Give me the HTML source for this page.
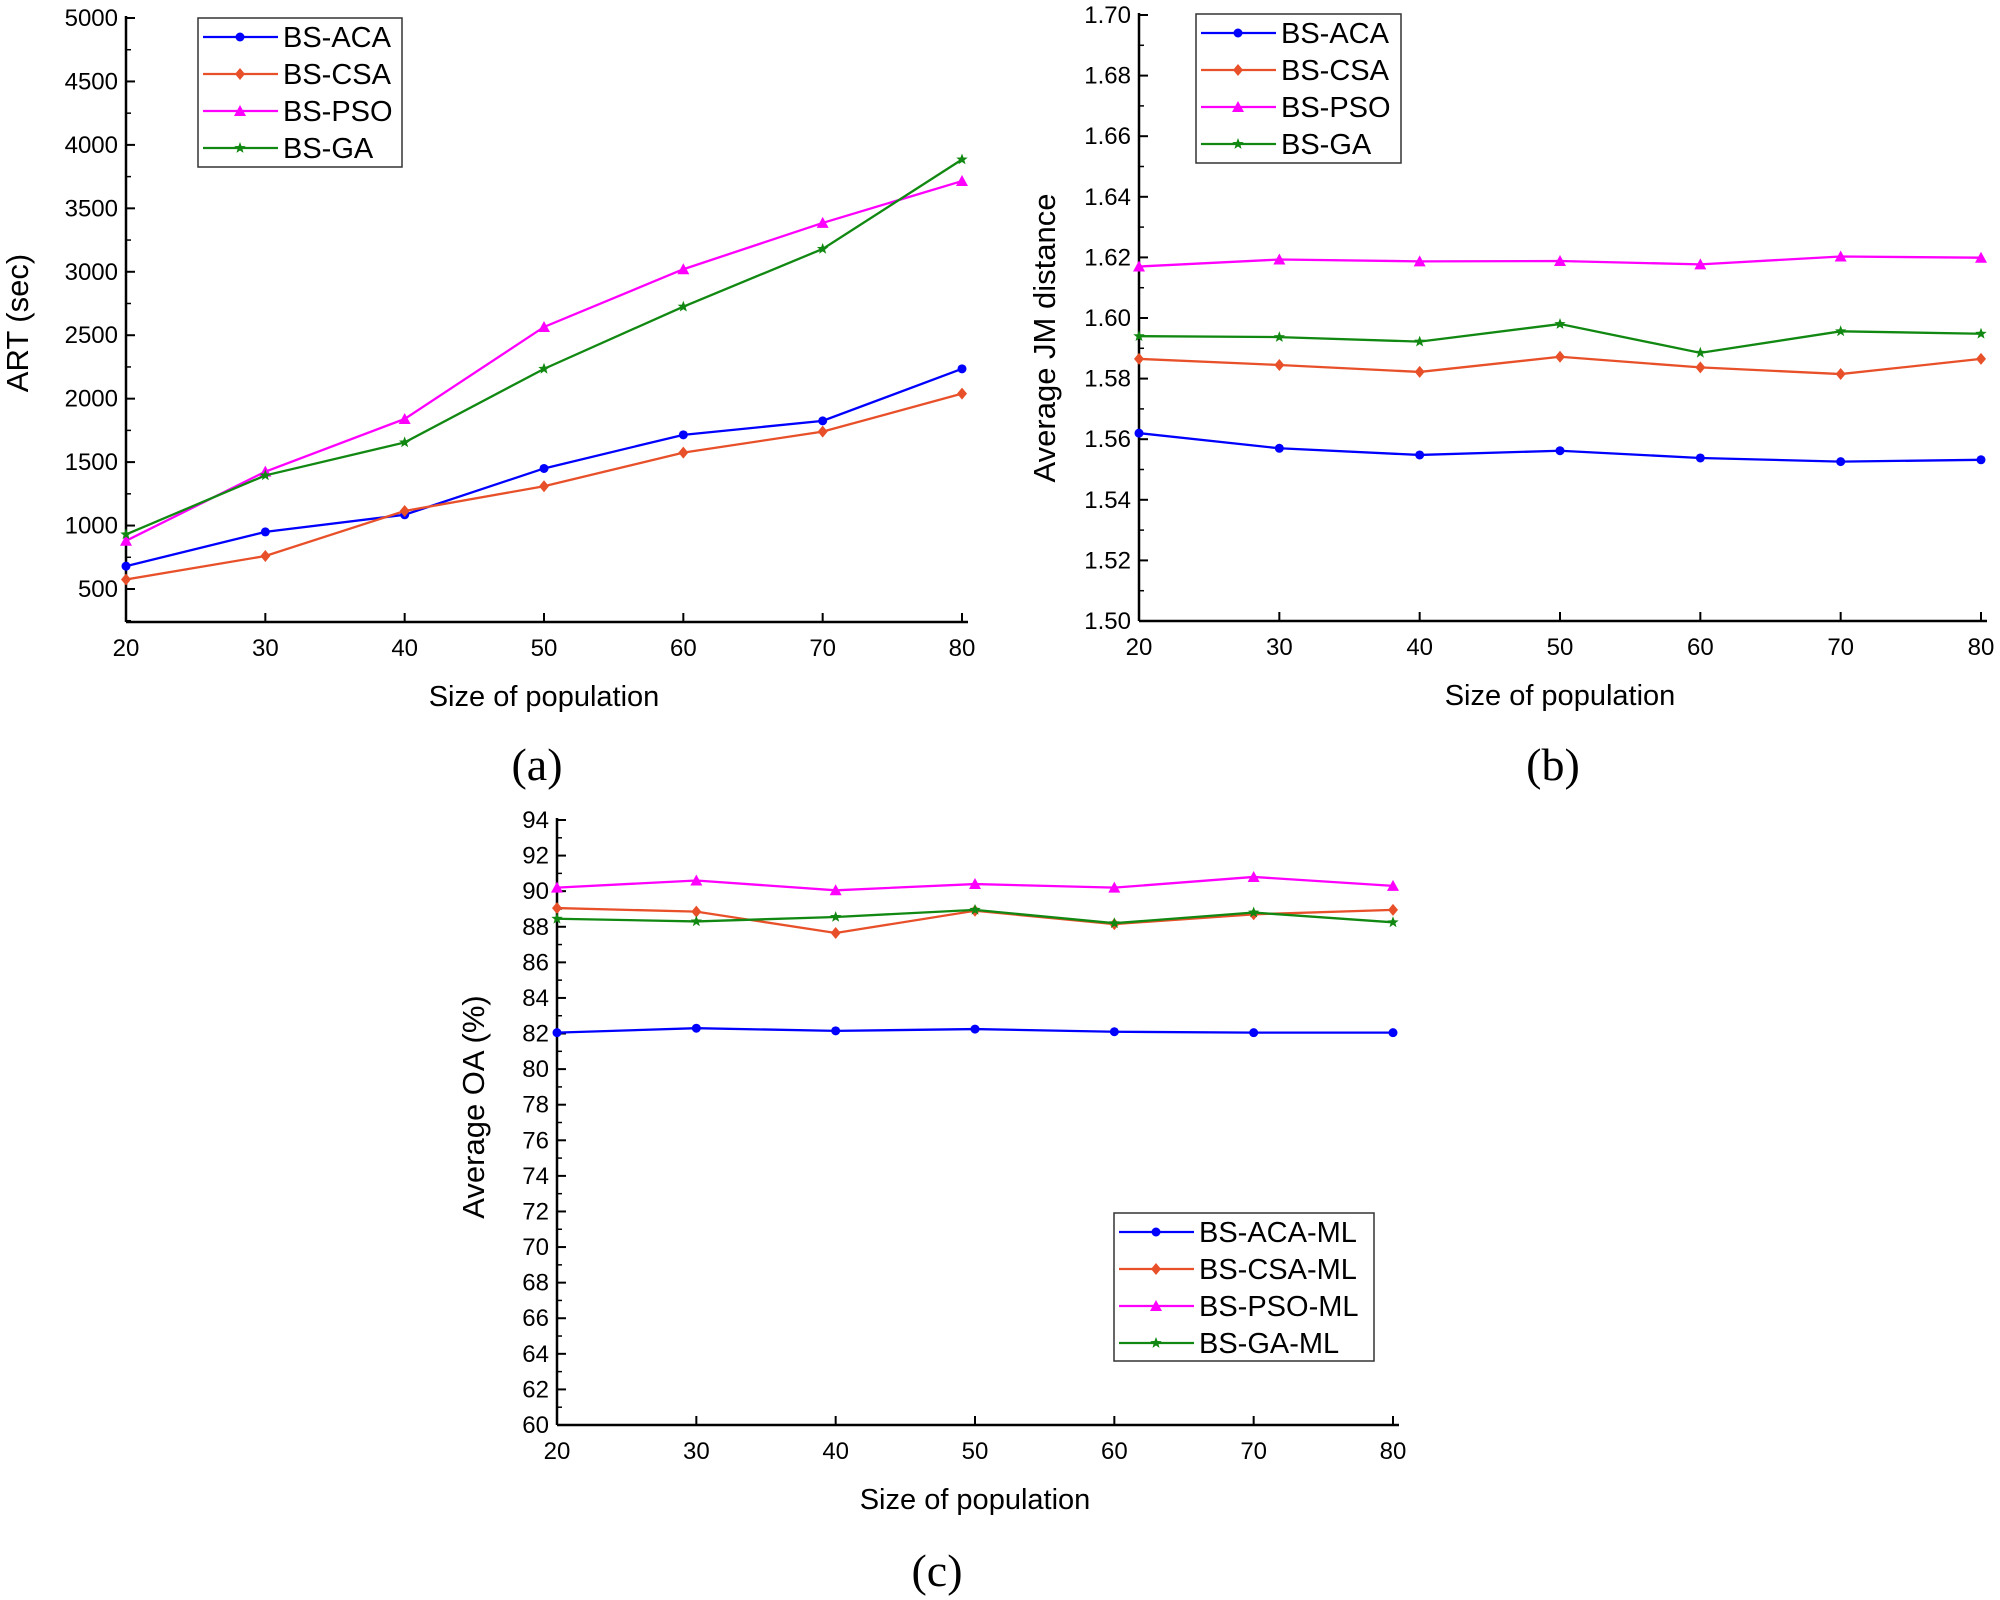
<!DOCTYPE html>
<html><head><meta charset="utf-8"><style>
html,body{margin:0;padding:0;background:#fff;}
svg{display:block;font-family:"Liberation Sans",Arial,sans-serif;}
</style></head><body>
<svg id="s" width="2000" height="1600" xmlns="http://www.w3.org/2000/svg"></svg>
<script>
const S=document.getElementById('s');let h='';
const col={b:'#0000ff',r:'#e8502a',m:'#ff00ff',g:'#118811'};
function marker(t,x,y,c){
 if(t==='b')return `<circle cx="${x}" cy="${y}" r="4.5" fill="${c}"/>`;
 if(t==='r')return `<polygon points="${x},${y-6} ${x+5},${y} ${x},${y+6} ${x-5},${y}" fill="${c}"/>`;
 if(t==='m')return `<polygon points="${x},${y-6} ${x+6},${y+5} ${x-6},${y+5}" fill="${c}"/>`;
 let p=[];for(let i=0;i<10;i++){const r=i%2?2.5:6,a=-Math.PI/2+i*Math.PI/5;p.push((x+r*Math.cos(a)).toFixed(1)+','+(y+r*Math.sin(a)).toFixed(1));}
 return `<polygon points="${p.join(' ')}" fill="${c}"/>`;
}
function plot(o){
 const X=v=>o.x0+(v-20)/60*(o.x1-o.x0);
 const Y=v=>o.yb+(v-o.vmin)/(o.vmax-o.vmin)*(o.yt-o.yb);
 const yb=o.axisBottom;
 h+=`<line x1="${o.x0}" y1="${o.yt-2}" x2="${o.x0}" y2="${yb}" stroke="#000" stroke-width="2.5"/>`;
 h+=`<line x1="${o.x0}" y1="${yb}" x2="${o.x1+6}" y2="${yb}" stroke="#000" stroke-width="2.5"/>`;
 for(let v=o.tmin;v<=o.vmax+1e-9;v+=o.step){
  const y=Y(v);h+=`<line x1="${o.x0}" y1="${y}" x2="${o.x0+9}" y2="${y}" stroke="#000" stroke-width="2"/>`;
  h+=`<text x="${o.x0-8}" y="${y+8}" font-size="24" text-anchor="end">${o.fmt(v)}</text>`;
  const ym=Y(v+o.step/2);if(v+o.step/2<o.vmax&&ym>=o.yt)h+=`<line x1="${o.x0}" y1="${ym}" x2="${o.x0+5}" y2="${ym}" stroke="#000" stroke-width="1.5"/>`;
 }
 if(o.preMinor){const ym=Y(o.tmin-o.step/2);h+=`<line x1="${o.x0}" y1="${ym}" x2="${o.x0+5}" y2="${ym}" stroke="#000" stroke-width="1.5"/>`;}
 for(let v=20;v<=80;v+=10){const x=X(v);h+=`<line x1="${x}" y1="${yb}" x2="${x}" y2="${yb-9}" stroke="#000" stroke-width="2"/>`;
  h+=`<text x="${x}" y="${yb+34}" font-size="24" text-anchor="middle">${v}</text>`;}
 h+=`<text x="${(o.x0+o.x1)/2}" y="${yb+84}" font-size="29" text-anchor="middle">Size of population</text>`;
 h+=`<text transform="translate(${o.ylx},${o.yly}) rotate(-90)" font-size="31" text-anchor="middle">${o.ylab}</text>`;
 h+=`<text x="${o.capx}" y="${o.capy}" font-size="46" text-anchor="middle" font-family="Liberation Serif,serif">${o.cap}</text>`;
 for(const k of ['b','r','m','g']){const d=o.d[k];
  h+=`<polyline fill="none" stroke="${col[k]}" stroke-width="2.3" points="${d.map((v,i)=>X(20+10*i)+','+Y(v)).join(' ')}"/>`;
  d.forEach((v,i)=>h+=marker(k,X(20+10*i),Y(v),col[k]));}
 const L=o.leg;h+=`<rect x="${L.x}" y="${L.y}" width="${L.w}" height="${L.h}" fill="#fff" stroke="#333" stroke-width="1.5"/>`;
 ['b','r','m','g'].forEach((k,i)=>{const y=L.y+19+i*37;
  h+=`<line x1="${L.x+5}" y1="${y}" x2="${L.x+80}" y2="${y}" stroke="${col[k]}" stroke-width="2.3"/>`+marker(k,L.x+42,y,col[k]);
  h+=`<text x="${L.x+85}" y="${y+10}" font-size="29">${L.names[i]}</text>`;});
}
plot({x0:126,x1:962,yt:18,yb:589,vmin:500,vmax:5000,axisBottom:622,tmin:500,step:500,preMinor:true,fmt:v=>v,
 ylab:'ART (sec)',ylx:28,yly:323,cap:'(a)',capx:537,capy:780,
 d:{b:[680,950,1085,1450,1715,1825,2235],r:[575,760,1115,1310,1575,1740,2040],m:[880,1425,1840,2565,3020,3385,3715],g:[930,1395,1655,2235,2725,3180,3885]},
 leg:{x:198,y:18,w:204,h:149,names:['BS-ACA','BS-CSA','BS-PSO','BS-GA']}});
plot({x0:1139,x1:1981,yt:15,yb:621,vmin:1.5,vmax:1.7,axisBottom:621,tmin:1.5,step:0.02,fmt:v=>v.toFixed(2),
 ylab:'Average JM distance',ylx:1055,yly:338,cap:'(b)',capx:1553,capy:780,
 d:{b:[1.562,1.557,1.5548,1.5562,1.5538,1.5526,1.5532],r:[1.5865,1.5845,1.5822,1.5872,1.5837,1.5815,1.5865],m:[1.617,1.6193,1.6187,1.6188,1.6177,1.6203,1.6199],g:[1.594,1.5937,1.5922,1.598,1.5885,1.5956,1.5948]},
 leg:{x:1196,y:14,w:205,h:149,names:['BS-ACA','BS-CSA','BS-PSO','BS-GA']}});
plot({x0:557,x1:1393,yt:820,yb:1425,vmin:60,vmax:94,axisBottom:1425,tmin:60,step:2,fmt:v=>v,
 ylab:'Average OA (%)',ylx:484,yly:1107,cap:'(c)',capx:937,capy:1586,
 d:{b:[82.05,82.3,82.15,82.25,82.1,82.05,82.05],r:[89.05,88.85,87.65,88.9,88.15,88.7,88.95],m:[90.2,90.6,90.05,90.4,90.2,90.8,90.3],g:[88.45,88.3,88.55,88.95,88.2,88.8,88.25]},
 leg:{x:1114,y:1213,w:260,h:148,names:['BS-ACA-ML','BS-CSA-ML','BS-PSO-ML','BS-GA-ML']}});
S.innerHTML=h;
</script>
</body></html>
